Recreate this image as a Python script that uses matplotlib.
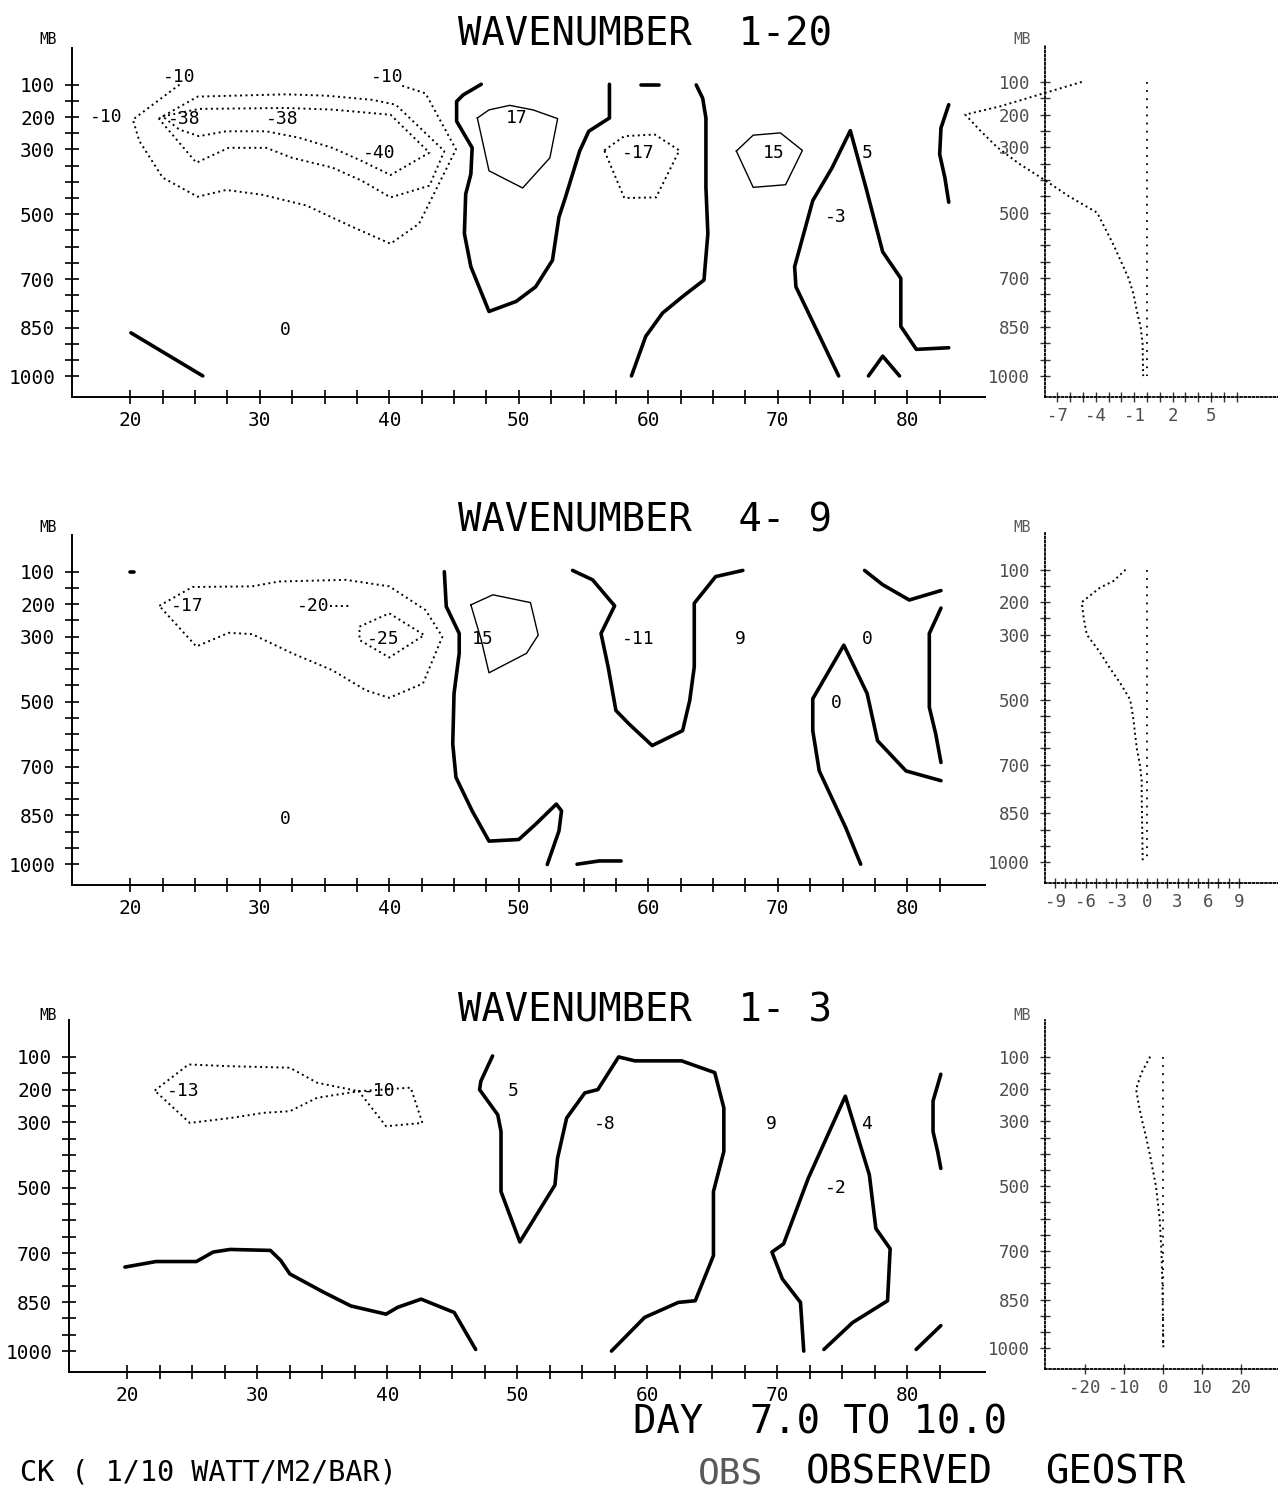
import matplotlib
matplotlib.use("Agg")
import matplotlib.pyplot as plt
import numpy as np

# ---------------- DATA ----------------
# pressure levels (mb) labelled on the axes
levels = [100, 200, 300, 500, 700, 850, 1000]
day_ticks = [20, 30, 40, 50, 60, 70, 80]

# ---- Panel 1 : WAVENUMBER 1-20 ---- contours as (day, mb)
p1_neg10 = [(23.8, 100), (20.2, 208), (20.7, 274), (22.5, 387), (25.2, 446), (27.4, 425), (30.2, 440),
            (33.6, 473), (37.2, 540), (40.1, 591), (42.3, 529), (45.15, 300), (42.8, 127), (40.8, 101)]
p1_neg_b = [(22.2, 205), (25.2, 137), (32.0, 130), (35.1, 134), (38.7, 147), (40.5, 162), (44.25, 305),
            (43.1, 412), (40.1, 448), (37.9, 397), (35.6, 356), (32.5, 326), (30.5, 295), (27.6, 295),
            (25.1, 341), (22.2, 205)]
p1_neg_c = [(22.5, 198), (25.3, 175), (32.0, 172), (35.6, 177), (40.1, 193), (43.1, 310), (40.1, 379),
            (37.9, 336), (35.6, 295), (33.05, 264), (30.5, 244), (27.4, 244), (25.3, 259), (23.8, 239),
            (22.5, 198)]
p1_neg17 = [(56.6, 303), (58.15, 259), (60.5, 254), (62.4, 303), (60.6, 448), (58.15, 450), (56.6, 303)]
p1_pos17 = [(46.8, 203), (47.7, 178), (49.3, 164), (51.1, 178), (53.0, 205), (52.4, 326), (50.3, 419),
            (47.7, 366), (46.8, 203)]
p1_pos15 = [(66.8, 305), (68.1, 256), (70.2, 249), (71.9, 303), (70.6, 409), (68.1, 417), (66.8, 305)]
p1_zero_a = [(20.05, 866), (25.6, 999)]
p1_zero_b = [(47.1, 99), (45.7, 132), (45.2, 152), (45.2, 213), (46.4, 295), (46.3, 376), (45.9, 438),
             (45.8, 560), (46.3, 662), (47.7, 800), (49.8, 769), (51.3, 724), (52.6, 642), (53.1, 509),
             (53.6, 448), (54.7, 305), (55.4, 244), (57.0, 203), (57.0, 99)]
p1_zero_c = [(59.4, 101), (60.8, 101)]
p1_zero_d = [(63.7, 101), (64.2, 142), (64.45, 203), (64.45, 417), (64.6, 560), (64.3, 703), (62.65, 754),
             (61.1, 805), (59.8, 877), (58.7, 999)]
p1_zero_e = [(74.7, 999), (71.4, 724), (71.3, 662), (72.7, 458), (74.2, 356), (75.6, 242), (76.8, 417),
             (78.1, 616), (79.5, 698), (79.5, 846), (80.7, 917), (83.2, 912)]
p1_zero_f = [(77.0, 999), (78.1, 938), (79.4, 999)]
p1_zero_g = [(83.2, 162), (82.6, 234), (82.5, 315), (82.9, 387), (83.2, 463)]
p1_labels = ["-10", "-10", "-10", "-38", "-38", "-40", "0", "17", "-17", "15", "5", "-3"]
p1_label_day = [18.15, 23.8, 39.8, 24.2, 31.7, 39.2, 32.0, 49.8, 59.2, 69.7, 76.9, 74.5]
p1_label_mb = [200, 75, 78, 207, 207, 311, 856, 203, 310, 310, 310, 507]

# ---- Panel 2 : WAVENUMBER 4-9 ----
p2_neg17 = [(22.24, 205), (24.8, 147), (29.4, 145), (31.5, 130), (36.65, 125), (40.0, 145), (42.8, 218),
            (44.1, 300), (42.6, 444), (40.0, 488), (38.2, 465), (35.6, 403), (32.5, 351), (29.4, 292),
            (27.6, 288), (25.1, 330), (22.24, 205)]
p2_neg20 = [(35.4, 205), (37.0, 205)]
p2_neg25 = [(37.7, 269), (40.0, 228), (42.7, 295), (40.0, 364), (37.7, 310), (37.7, 269)]
p2_pos15 = [(46.3, 202), (48.0, 171), (50.9, 195), (51.1, 228), (51.5, 295), (50.6, 351), (47.7, 411),
            (47.1, 310), (46.3, 202)]
p2_zero_a = [(44.25, 100), (44.4, 207), (45.4, 290), (45.4, 351), (45.0, 475), (44.9, 630), (45.15, 733),
             (46.4, 836), (47.7, 929), (50.0, 924), (51.3, 877), (52.9, 815), (53.3, 836), (53.1, 898),
             (52.2, 1001)]
p2_zero_b = [(54.15, 96), (55.7, 125), (57.4, 205), (56.35, 290), (56.9, 393), (57.5, 527), (58.5, 568),
             (60.3, 635), (62.65, 589), (63.2, 496), (63.55, 393), (63.55, 197), (65.2, 115), (67.3, 96)]
p2_zero_c = [(54.5, 1000), (56.2, 990), (57.9, 990)]
p2_zero_d = [(76.7, 96), (78.1, 140), (80.15, 187), (82.6, 158)]
p2_zero_e = [(76.4, 1000), (75.25, 888), (73.2, 713), (72.7, 589), (72.7, 491), (75.1, 326), (76.9, 475),
             (77.7, 620), (79.9, 713), (82.6, 743)]
p2_zero_f = [(82.6, 212), (81.7, 290), (81.7, 517), (82.2, 600), (82.6, 687)]
p2_zero_g = [(20.0, 100), (20.25, 100)]
p2_labels = ["-17", "-20", "-25", "0", "15", "-11", "9", "0", "0"]
p2_label_day = [24.4, 34.1, 39.5, 32.0, 47.2, 59.2, 67.1, 76.9, 74.5]
p2_label_mb = [205, 205, 308, 862, 308, 308, 308, 308, 504]

# ---- Panel 3 : WAVENUMBER 1-3 ----
p3_neg = [(22.1, 203), (24.7, 123), (27.6, 128), (32.5, 133), (34.6, 179), (37.8, 205), (41.8, 194),
          (42.7, 302), (39.9, 312), (37.8, 205), (34.6, 225), (32.5, 266), (30.5, 271), (27.9, 287),
          (24.8, 302), (22.1, 203)]
p3_zero_a = [(19.8, 743), (22.2, 726), (25.3, 726), (26.6, 697), (27.9, 689), (31.0, 692), (31.8, 723),
             (32.5, 764), (35.1, 820), (37.2, 862), (39.9, 887), (40.8, 866), (42.6, 841), (45.15, 882),
             (46.8, 995)]
p3_zero_b = [(48.1, 97), (47.2, 174), (47.1, 200), (48.5, 277), (48.75, 328), (48.75, 512), (50.2, 666),
             (52.9, 492), (53.1, 410), (53.8, 287), (55.2, 210), (56.2, 200), (57.8, 100), (59.05, 112),
             (62.65, 112), (65.2, 148), (65.9, 256), (65.9, 389), (65.1, 512), (65.1, 708), (63.7, 846),
             (62.4, 851), (59.8, 897), (57.25, 1000)]
p3_zero_c = [(72.05, 1000), (71.8, 851), (70.4, 779), (69.6, 697), (70.5, 672), (72.4, 471), (75.25, 220),
             (77.1, 461), (77.6, 625), (78.7, 687), (78.5, 846), (75.8, 913), (73.6, 995)]
p3_zero_d = [(82.6, 153), (82.0, 235), (82.0, 328), (82.35, 389), (82.6, 441)]
p3_zero_e = [(80.7, 995), (82.6, 922)]
p3_labels = ["-13", "-10", "5", "-8", "9", "4", "-2"]
p3_label_day = [24.3, 39.35, 49.65, 56.7, 69.55, 76.9, 74.5]
p3_label_mb = [203, 203, 203, 305, 305, 305, 500]

# ---- side profiles (value, mb) ----
s1_mb = [100, 175, 200, 250, 300, 350, 400, 450, 500, 600, 700, 750, 800, 850, 900, 1000]
s1_val = [-5.1, -11.5, -14.2, -13.0, -11.7, -10.0, -8.0, -6.1, -3.9, -2.6, -1.45, -1.05, -0.8, -0.5, -0.35, -0.3]
s2_mb = [100, 135, 155, 175, 200, 250, 300, 350, 400, 450, 500, 550, 650, 700, 750, 800, 1000]
s2_val = [-2.1, -3.3, -4.6, -5.4, -6.4, -6.2, -5.9, -4.7, -3.7, -2.6, -1.65, -1.38, -1.0, -0.7, -0.52, -0.52, -0.42]
s3_mb = [100, 150, 200, 250, 300, 350, 400, 450, 500, 600, 700, 800, 1000]
s3_val = [-3.3, -5.5, -6.9, -6.2, -5.3, -4.3, -3.4, -2.6, -1.8, -0.85, -0.4, -0.15, 0.1]
s1_xticklabels = [-7, -4, -1, 2, 5]
s2_xticklabels = [-9, -6, -3, 0, 3, 6, 9]
s3_xticklabels = [-20, -10, 0, 10, 20]

titles = ["WAVENUMBER  1-20", "WAVENUMBER  4- 9", "WAVENUMBER  1- 3"]

# ---------------- STYLE / LAYOUT ----------------
W, H = 1278, 1495
FONT = ["DejaVu Sans Mono", "DejaVu Sans"]
plt.rcParams["font.family"] = FONT
fig = plt.figure(figsize=(W / 100, H / 100), dpi=100)
fig.patch.set_facecolor("white")

DOT = (0, (1, 1.8))
STYLE = {
    "zero": dict(color="black", lw=2.6, ls="-", solid_joinstyle="round", solid_capstyle="round"),
    "pos": dict(color="black", lw=1.0, ls="-"),
    "neg": dict(color="black", lw=1.4, ls=DOT),
}


def rect(l, t, r, b):
    return [l / W, 1 - b / H, (r - l) / W, (b - t) / H]


P_LIM = (1064, -13)


def main_panel(box, contours, labels, ldays, lmbs):
    ax = fig.add_axes(rect(*box))
    ax.set_xlim(15.5, 86.0)
    ax.set_ylim(*P_LIM)
    for s in ["top", "right"]:
        ax.spines[s].set_visible(False)
    for s in ["left", "bottom"]:
        ax.spines[s].set_linewidth(1.4)
    ax.set_yticks(levels)
    ax.set_yticks(np.arange(100, 1001, 50), minor=True)
    ax.set_yticklabels([str(v) for v in levels])
    ax.set_xticks(day_ticks)
    ax.set_xticks(np.arange(20, 83, 2.5), minor=True)
    ax.set_xticklabels([str(v) for v in day_ticks])
    ax.tick_params(which="both", direction="inout", length=10, width=1.2, labelsize=14)
    ax.tick_params(axis="y", which="both", pad=7)
    ax.tick_params(axis="x", which="both", pad=5)
    for pts, kind in contours:
        d = [p[0] for p in pts]
        m = [p[1] for p in pts]
        ax.plot(d, m, clip_on=False, **STYLE[kind])
    for t, dd, mm in zip(labels, ldays, lmbs):
        ax.text(dd, mm, t, ha="center", va="center", fontsize=13)
    return ax


def side_panel(box, mb, val, xlim, minor, major):
    ax = fig.add_axes(rect(*box))
    ax.patch.set_alpha(0)
    ax.set_xlim(*xlim)
    ax.set_ylim(*P_LIM)
    for s in ["top", "right"]:
        ax.spines[s].set_visible(False)
    for s in ["left", "bottom"]:
        ax.spines[s].set_linestyle((0, (1, 1.3)))
        ax.spines[s].set_linewidth(1.3)
    ax.set_yticks(levels)
    ax.set_yticks(np.arange(100, 1001, 50), minor=True)
    ax.set_yticklabels([str(v) for v in levels])
    ax.set_xticks(major)
    ax.set_xticks(minor, minor=True)
    ax.set_xticklabels([str(v) for v in major])
    ax.tick_params(which="both", direction="inout", length=7, width=1.0, labelsize=12.5,
                   labelcolor="0.3", color="0.2")
    ax.tick_params(axis="y", which="both", pad=7)
    ax.tick_params(axis="x", which="both", pad=4)
    ax.plot([0, 0], [100, 1000], color="black", lw=1.3, ls=(0, (1, 3.5)))
    ax.plot(val, mb, color="black", lw=1.4, ls=(0, (1, 1.7)), clip_on=False)
    return ax


panels = [
    dict(box=(72, 48, 985, 397),
         contours=[(p1_neg10, "neg"), (p1_neg_b, "neg"), (p1_neg_c, "neg"), (p1_neg17, "neg"),
                   (p1_pos17, "pos"), (p1_pos15, "pos"),
                   (p1_zero_a, "zero"), (p1_zero_b, "zero"), (p1_zero_c, "zero"), (p1_zero_d, "zero"),
                   (p1_zero_e, "zero"), (p1_zero_f, "zero"), (p1_zero_g, "zero")],
         labels=p1_labels, ld=p1_label_day, lm=p1_label_mb),
    dict(box=(72, 535, 985, 885),
         contours=[(p2_neg17, "neg"), (p2_neg20, "neg"), (p2_neg25, "neg"), (p2_pos15, "pos"),
                   (p2_zero_a, "zero"), (p2_zero_b, "zero"), (p2_zero_c, "zero"), (p2_zero_d, "zero"),
                   (p2_zero_e, "zero"), (p2_zero_f, "zero"), (p2_zero_g, "zero")],
         labels=p2_labels, ld=p2_label_day, lm=p2_label_mb),
    dict(box=(69, 1020, 985, 1372),
         contours=[(p3_neg, "neg"), (p3_zero_a, "zero"), (p3_zero_b, "zero"), (p3_zero_c, "zero"),
                   (p3_zero_d, "zero"), (p3_zero_e, "zero")],
         labels=p3_labels, ld=p3_label_day, lm=p3_label_mb),
]
for pnl in panels:
    main_panel(pnl["box"], pnl["contours"], pnl["labels"], pnl["ld"], pnl["lm"])

side_panel((1045, 45, 1278, 397), s1_mb, s1_val, (-7.97, 10.23), np.arange(-7, 8, 1), s1_xticklabels)
side_panel((1045, 533, 1278, 883), s2_mb, s2_val, (-10.0, 12.84), np.arange(-9, 10, 1), s2_xticklabels)
side_panel((1045, 1020, 1278, 1369), s3_mb, s3_val, (-30.26, 29.5), s3_xticklabels, s3_xticklabels)

# titles and labels
title_y = [35, 520, 1010]
for t, ty in zip(titles, title_y):
    fig.text(458 / W, 1 - ty / H, t, ha="left", va="center", fontsize=28)
for my in [40, 527, 1015]:
    fig.text(48 / W, 1 - my / H, "MB", ha="center", va="center", fontsize=10.5)
    fig.text(1022 / W, 1 - my / H, "MB", ha="center", va="center", fontsize=10.5, color="0.35")

fig.text(633 / W, 1 - 1422 / H, "DAY  7.0 TO 10.0", ha="left", va="center", fontsize=28)
fig.text(20 / W, 1 - 1473 / H, "CK ( 1/10 WATT/M2/BAR)", ha="left", va="center", fontsize=20.5)
fig.text(698 / W, 1 - 1473 / H, "OBS", ha="left", va="center", fontsize=26, color="0.35")
fig.text(806 / W, 1 - 1473 / H, "OBSERVED", ha="left", va="center", fontsize=28)
fig.text(1045 / W, 1 - 1473 / H, "GEOSTR", ha="left", va="center", fontsize=28)

fig.savefig("out.png", dpi=100, facecolor="white")
